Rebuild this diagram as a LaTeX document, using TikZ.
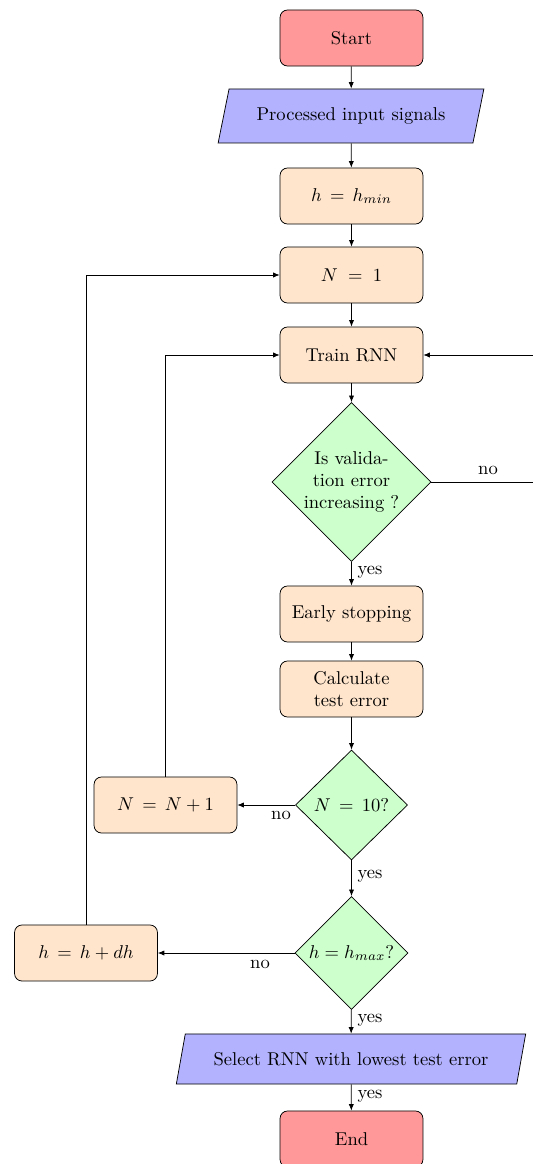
\documentclass[tikz,border=0pt]{standalone}
\usetikzlibrary{shapes.geometric,arrows.meta}
\begin{document}
\begin{tikzpicture}[x=0.539pt,y=-0.539pt,
  box/.style={draw,rounded corners=4pt,fill=orange!20,minimum width=77pt,minimum height=30.2pt,inner sep=2pt,align=center},
  term/.style={box,fill=red!40},
  io/.style={draw,trapezium,trapezium left angle=70,trapezium right angle=110,trapezium stretches=true,fill=blue!30,inner sep=2pt},
  dec/.style={draw,diamond,fill=green!20,inner sep=0pt,align=center},
  arr/.style={-{Latex[length=3.5pt,width=2.8pt]}},
  lbl/.style={inner sep=0pt}]
\useasboundingbox (0,0) rectangle (533,1164);
\node[term] (start) at (351.5,38) {Start};
\node[io,minimum width=143.4pt,minimum height=29.1pt] (proc) at (351,116) {Processed input signals};
\node[box] (hmin) at (351.5,196) {$h\,=\,h_{min}$};
\node[box] (n1) at (351.5,275) {$N\;=\;1$};
\node[box] (train) at (351.5,355) {Train RNN};
\node[dec,minimum width=85.7pt,minimum height=85.7pt] (d1) at (351.5,482) {Is valida-\\tion error\\increasing ?};
\node[box] (early) at (351.5,614) {Early stopping};
\node[box] (calc) at (351.5,689) {Calculate\\test error};
\node[dec,minimum width=60.4pt,minimum height=59.3pt] (d2) at (351.5,805) {$N\,=\,10?$};
\node[box] (ninc) at (165.5,805) {$N\,=\,N+1$};
\node[dec,minimum width=61pt,minimum height=61pt] (d3) at (351.5,953) {$h=h_{max}?$};
\node[box] (hinc) at (86,953) {$h\,=\,h+dh$};
\node[io,minimum width=188.7pt,minimum height=27pt] (sel) at (351,1059) {Select RNN with lowest test error};
\node[term] (end) at (351.5,1139) {End};
\coordinate (r1) at (545,482);
\coordinate (r2) at (545,355);
\draw[arr] (start) -- (proc);
\draw[arr] (proc) -- (hmin);
\draw[arr] (hmin) -- (n1);
\draw[arr] (n1) -- (train);
\draw[arr] (train) -- (d1);
\draw[arr] (d1) -- (early);
\draw[arr] (early) -- (calc);
\draw[arr] (calc) -- (d2);
\draw[arr] (d2) -- (d3);
\draw[arr] (d3) -- (sel);
\draw[arr] (sel) -- (end);
\draw[arr] (d1.east) -- (r1) -- (r2) -- (train.east);
\draw[arr] (d2.west) -- (ninc.east);
\draw[arr] (d3.west) -- (hinc.east);
\draw[arr] (ninc.north) |- (train.west);
\draw[arr] (hinc.north) |- (n1.west);
\node[lbl] (no1) at (488,470) {no};
\node[lbl] (no2) at (281,815) {no};
\node[lbl] (no3) at (260,964) {no};
\node[lbl] (yes1) at (370,572) {yes};
\node[lbl] (yes2) at (370,876) {yes};
\node[lbl] (yes3) at (370,1020) {yes};
\node[lbl] (yes4) at (370,1096) {yes};
\end{tikzpicture}
\end{document}
